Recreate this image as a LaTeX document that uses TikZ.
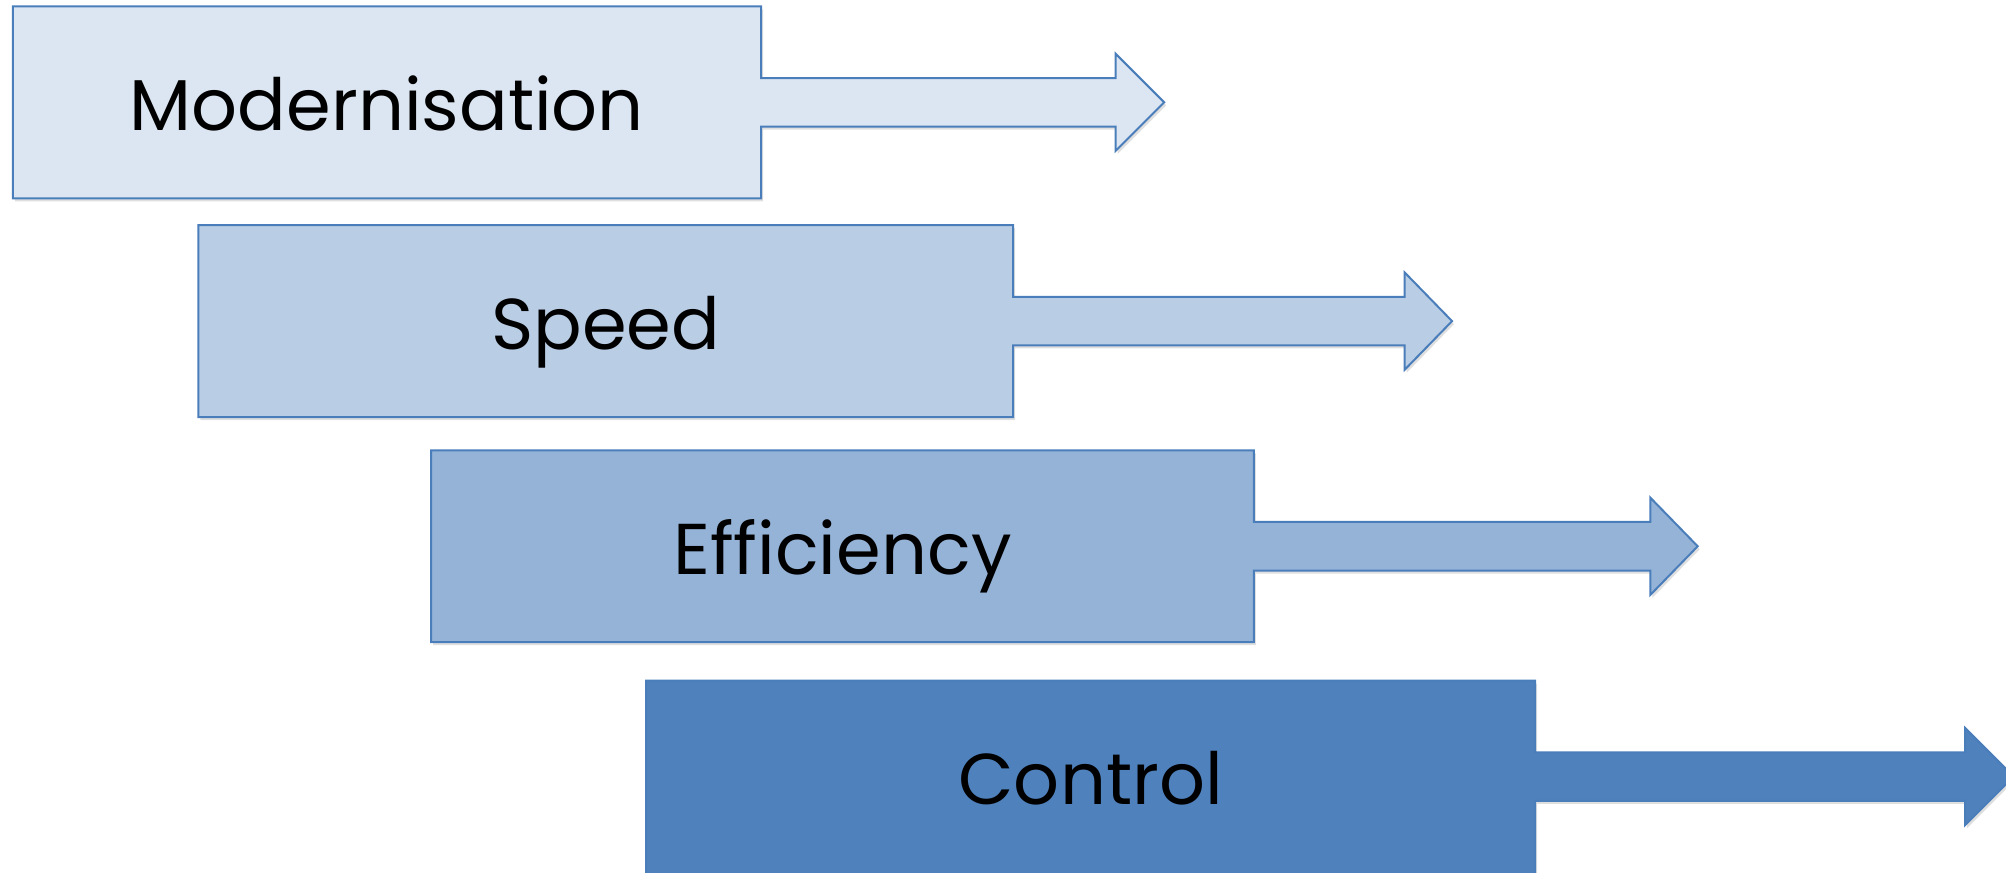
\documentclass[tikz,border=0pt]{standalone}
\usepackage{fontspec}
\setmainfont{Poppins}
\usetikzlibrary{shadows}
\definecolor{lvlA}{HTML}{DCE6F2}
\definecolor{lvlB}{HTML}{B9CDE5}
\definecolor{lvlC}{HTML}{95B3D7}
\definecolor{lvlD}{HTML}{4F81BD}
\definecolor{edge}{HTML}{4A7EBB}
\begin{document}
\begin{tikzpicture}[
    x=0.64pt, y=-0.64pt,
    stage/.style={draw=edge, line width=1pt, line join=miter,
                  drop shadow={shadow xshift=1pt, shadow yshift=-1.5pt, opacity=0.25}},
    label/.style={font=\fontsize{36}{42}\selectfont, text=black, inner sep=0pt, anchor=base},
  ]
    \useasboundingbox (0,0) rectangle (1568,682);

    % Modernisation
    \draw[stage, fill=lvlA] (10,5) -- (595,5) -- (595,61) -- (872,61) -- (872,42)
        -- (910,80) -- (872,118) -- (872,99) -- (595,99) -- (595,155) -- (10,155) -- cycle;
    \node[label] (mod) at (302.5,102) {Modernisation};

    % Speed
    \draw[stage, fill=lvlB] (155,176) -- (792,176) -- (792,232) -- (1098,232) -- (1098,213)
        -- (1135,251) -- (1098,289) -- (1098,270) -- (792,270) -- (792,326) -- (155,326) -- cycle;
    \node[label] (spd) at (473.5,273) {Speed};

    % Efficiency
    \draw[stage, fill=lvlC] (337,352) -- (980,352) -- (980,408) -- (1290,408) -- (1290,389)
        -- (1327,427) -- (1290,465) -- (1290,446) -- (980,446) -- (980,502) -- (337,502) -- cycle;
    \node[label] (eff) at (658.5,449) {Efficiency};

    % Control
    \draw[stage, fill=lvlD] (505,532) -- (1200,532) -- (1200,588) -- (1536,588) -- (1536,569)
        -- (1574,607) -- (1536,645) -- (1536,626) -- (1200,626) -- (1200,690) -- (505,690) -- cycle;
    \node[label] (ctl) at (852.5,629) {Control};
\end{tikzpicture}
\end{document}
